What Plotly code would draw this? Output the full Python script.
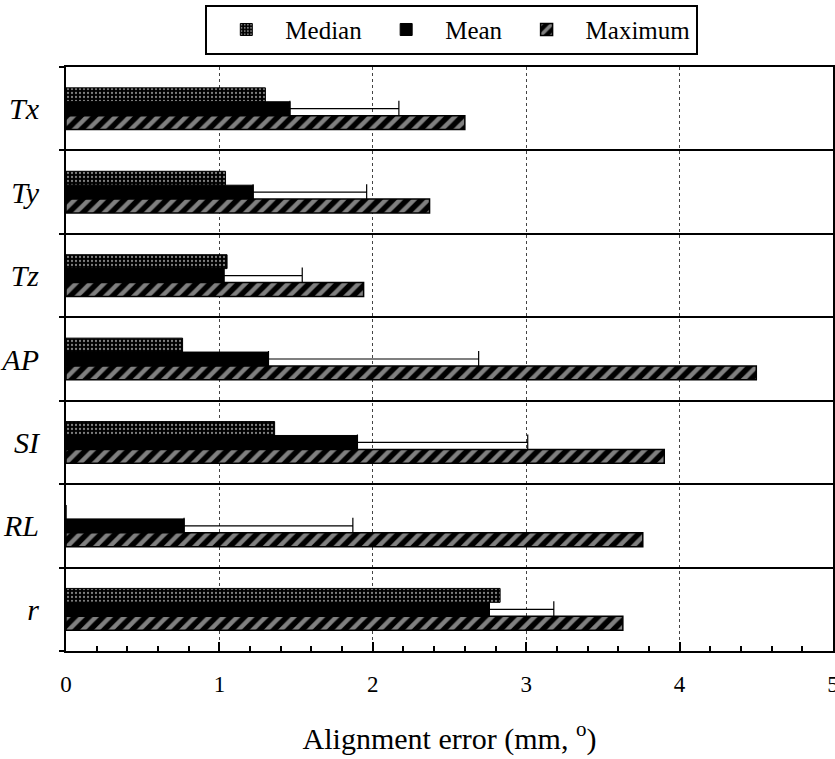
import plotly.graph_objects as go

categories = ["Tx", "Ty", "Tz", "AP", "SI", "RL", "r"]
median_vals = [1.30, 1.04, 1.05, 0.76, 1.36, 0.0, 2.83]
mean_vals = [1.46, 1.22, 1.03, 1.32, 1.90, 0.77, 2.76]
mean_plus_sd = [2.17, 1.96, 1.54, 2.69, 3.01, 1.87, 3.18]
max_vals = [2.60, 2.37, 1.94, 4.50, 3.90, 3.76, 3.63]
x_ticks = [0, 1, 2, 3, 4, 5]

err_plus = [s - m for s, m in zip(mean_plus_sd, mean_vals)]
FONT = "Liberation Serif"

fig = go.Figure()
fig.add_trace(go.Bar(
    y=categories, x=median_vals, orientation="h", name="Median",
    marker=dict(color="black", line=dict(color="black", width=1),
                pattern=dict(shape=".", fillmode="overlay", fgcolor="white",
                             size=4, solidity=0.25)),
))
fig.add_trace(go.Bar(
    y=categories, x=mean_vals, orientation="h", name="Mean",
    marker=dict(color="black", line=dict(color="black", width=1)),
    error_x=dict(type="data", array=err_plus, arrayminus=[0] * len(err_plus),
                 symmetric=False, color="black", thickness=1.2, width=8),
))
fig.add_trace(go.Bar(
    y=categories, x=max_vals, orientation="h", name="Maximum",
    marker=dict(color="black", line=dict(color="black", width=1.5),
                pattern=dict(shape="/", fillmode="overlay", fgcolor="white",
                             size=10, solidity=0.45)),
))

fig.update_layout(
    width=835, height=759,
    paper_bgcolor="white", plot_bgcolor="white",
    margin=dict(l=66, r=2, t=67, b=108, autoexpand=False),
    barmode="group", bargap=0.5, bargroupgap=0,
    font=dict(family=FONT, color="black"),
    legend=dict(orientation="h", x=0.503, xanchor="center", y=1.021, yanchor="bottom",
                bordercolor="black", borderwidth=2, bgcolor="white",
                font=dict(family=FONT, size=25), traceorder="normal",
                itemwidth=68),
    xaxis=dict(
        range=[0, 5], tickvals=x_ticks, ticktext=[str(t) for t in x_ticks],
        automargin=False, ticklabeloverflow="allow",
        ticks="inside", ticklen=9, tickwidth=2, tickcolor="black",
        minor=dict(dtick=0.2, ticks="inside", ticklen=5, tickwidth=1.5, tickcolor="black", showgrid=False),
        showline=True, linecolor="black", linewidth=2, mirror=True,
        showgrid=True, gridcolor="#444", griddash="dot", gridwidth=1,
        zeroline=False, ticklabelstandoff=11,
        tickfont=dict(family=FONT, size=23),
        title=dict(text="Alignment error (mm, <sup>o</sup>)", font=dict(family=FONT, size=30), standoff=32),
    ),
    yaxis=dict(
        type="category", autorange="reversed", automargin=False,
        tickvals=categories, ticktext=["<i>" + c + "</i>" for c in categories],
        tickson="boundaries", ticks="outside", ticklen=5, tickwidth=2, tickcolor="black",
        showline=True, linecolor="black", linewidth=2, mirror=True,
        showgrid=True, gridcolor="black", gridwidth=2,
        zeroline=False, ticklabelstandoff=19,
        tickfont=dict(family=FONT, size=30),
    ),
)

fig.write_html("out.html", config={"displayModeBar": False},
               post_script="document.body.style.margin='0';document.body.style.overflow='hidden';")
